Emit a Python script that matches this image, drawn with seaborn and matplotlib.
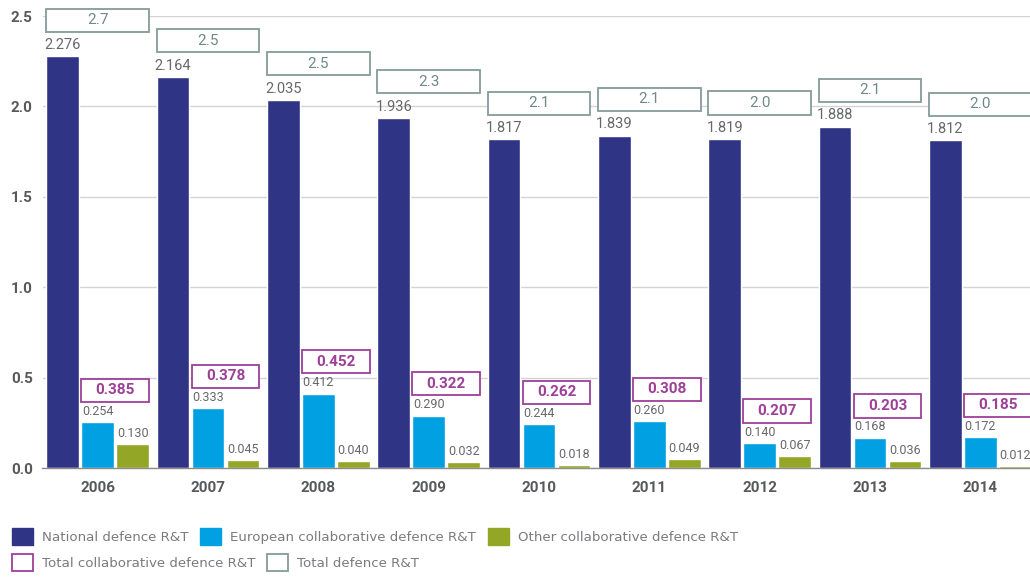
import matplotlib
matplotlib.use("Agg")
import matplotlib.pyplot as plt
from matplotlib.patches import Patch, Rectangle
import seaborn as sns
import pandas as pd

years = ["2006", "2007", "2008", "2009", "2010", "2011", "2012", "2013", "2014"]
national = [2.276, 2.164, 2.035, 1.936, 1.817, 1.839, 1.819, 1.888, 1.812]
european = [0.254, 0.333, 0.412, 0.290, 0.244, 0.260, 0.140, 0.168, 0.172]
other = [0.130, 0.045, 0.040, 0.032, 0.018, 0.049, 0.067, 0.036, 0.012]
total_collab = [0.385, 0.378, 0.452, 0.322, 0.262, 0.308, 0.207, 0.203, 0.185]
total_defence = [2.7, 2.5, 2.5, 2.3, 2.1, 2.1, 2.0, 2.1, 2.0]

series_names = ["National defence R&T", "European collaborative defence R&T",
                "Other collaborative defence R&T"]
box_names = ["Total collaborative defence R&T", "Total defence R&T"]
y_ticks = [0.0, 0.5, 1.0, 1.5, 2.0, 2.5]

NAVY = "#303485"
CYAN = "#00a0e3"
OLIVE = "#94a626"
PURPLE = "#9e3f98"
SLATE = "#869b9b"
SLATE_TXT = "#71898a"
GREY_TXT = "#67686b"
LEGEND_TXT = "#7a7b7e"
TICK_TXT = "#58595b"

sns.set_theme(style="white")
plt.rcParams["font.family"] = ["Roboto", "DejaVu Sans"]

df = pd.DataFrame({
    "year": years * 3,
    "value": national + european + other,
    "series": [s for s in series_names for _ in years],
})

fig = plt.figure(figsize=(10.30, 5.78), dpi=100)
ax = fig.add_axes([42.5 / 1030, 110 / 578, 993 / 1030, 452 / 578])

sns.barplot(data=df, x="year", y="value", hue="series", order=years,
            hue_order=series_names, palette=[NAVY, CYAN, OLIVE],
            width=0.95, gap=0.06, saturation=1, errorbar=None,
            legend=False, ax=ax, zorder=2)

ax.set_xlim(-0.5, len(years) - 0.5)
ax.set_ylim(0, 2.5)
ax.set_yticks(y_ticks)
ax.set_yticklabels([f"{t:.1f}" for t in y_ticks])
ax.set_xlabel("")
ax.set_ylabel("")
ax.yaxis.grid(True, color="#d4d4d4", linewidth=1.0, zorder=0)
ax.set_axisbelow(True)
for side in ["left", "right", "top"]:
    ax.spines[side].set_visible(False)
ax.spines["bottom"].set_color("#8c8c8c")
ax.spines["bottom"].set_linewidth(1.0)
ax.tick_params(axis="both", length=0, colors=TICK_TXT)
ax.tick_params(axis="y", pad=7, labelsize=11)
ax.tick_params(axis="x", pad=9, labelsize=11)
for lbl in ax.get_xticklabels() + ax.get_yticklabels():
    lbl.set_fontweight("bold")
    lbl.set_color(TICK_TXT)

nat_bars, eu_bars, oth_bars = ax.containers[:3]

# value labels above each bar
for container, size in [(nat_bars, 10.5), (eu_bars, 9), (oth_bars, 9)]:
    for bar in container:
        h = bar.get_height()
        ax.annotate(f"{h:.3f}", (bar.get_x() + bar.get_width() / 2, h),
                    xytext=(0, 3), textcoords="offset points",
                    ha="center", va="bottom", fontsize=size, color=GREY_TXT)

box_h = 0.128
for i in range(len(years)):
    nb, eb, ob = nat_bars[i], eu_bars[i], oth_bars[i]
    # total defence box spanning the whole group
    x0 = nb.get_x()
    x1 = ob.get_x() + ob.get_width()
    yc = nb.get_height() + 0.2
    ax.add_patch(Rectangle((x0, yc - box_h / 2), x1 - x0, box_h,
                           facecolor="white", edgecolor=SLATE, linewidth=1.3,
                           clip_on=False, zorder=4))
    ax.text((x0 + x1) / 2, yc, f"{total_defence[i]:.1f}", ha="center",
            va="center", fontsize=11, color=SLATE_TXT, zorder=5,
            clip_on=False)
    # total collaborative box over the two collaborative bars
    cx0 = eb.get_x()
    cyc = max(eb.get_height(), ob.get_height()) + 0.175
    ax.add_patch(Rectangle((cx0, cyc - box_h / 2), x1 - cx0, box_h,
                           facecolor="white", edgecolor=PURPLE, linewidth=1.3,
                           clip_on=False, zorder=4))
    ax.text((cx0 + x1) / 2, cyc, f"{total_collab[i]:.3f}", ha="center",
            va="center", fontsize=11, fontweight="bold", color=PURPLE,
            zorder=5, clip_on=False)

legend_kw = dict(frameon=False, handlelength=1.55, handleheight=1.55,
                 handletextpad=0.68, columnspacing=0.9,
                 prop={"family": ["DejaVu Sans"], "size": 9.6},
                 labelcolor=LEGEND_TXT, borderaxespad=0, borderpad=0)
row1 = [Patch(facecolor=c, edgecolor=c) for c in [NAVY, CYAN, OLIVE]]
fig.legend(row1, series_names, loc="upper left",
           bbox_to_anchor=(12 / 1030, 1 - 528 / 578), ncol=3, **legend_kw)
row2 = [Patch(facecolor="white", edgecolor=c, linewidth=1.3)
        for c in [PURPLE, SLATE]]
fig.legend(row2, box_names, loc="upper left",
           bbox_to_anchor=(12 / 1030, 1 - 554 / 578), ncol=2, **legend_kw)

fig.savefig("out.png", dpi=100)
